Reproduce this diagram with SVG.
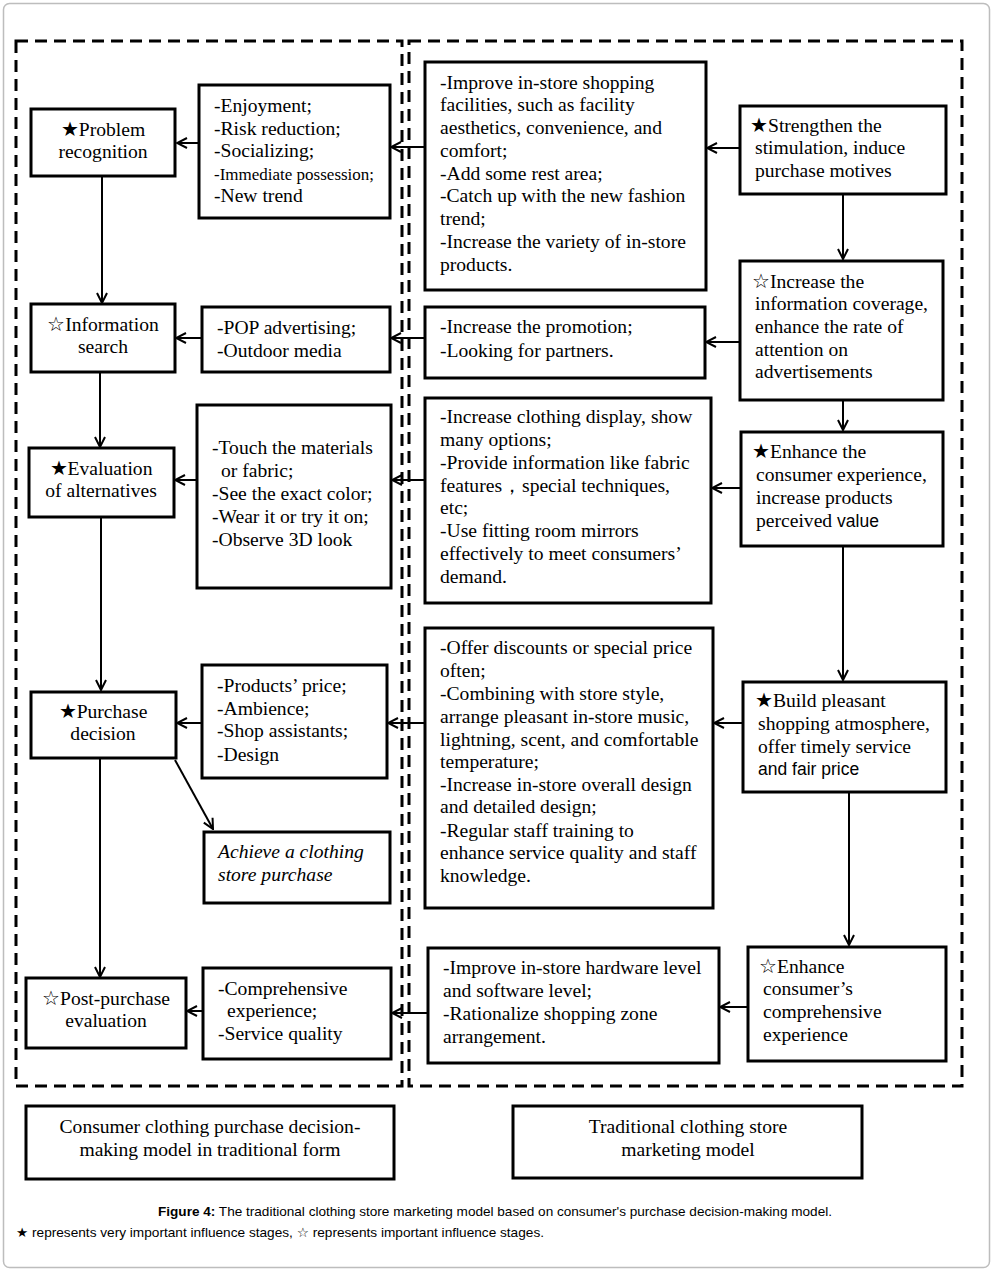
<svg xmlns="http://www.w3.org/2000/svg" width="996" height="1272" viewBox="0 0 996 1272">
<style>
.t{font-family:"Liberation Serif","DejaVu Serif",serif;font-size:19.6px;fill:#000}
.c{text-anchor:middle}
.sm{font-size:17px}
.it{font-style:italic}
.sans{font-family:"Liberation Sans","DejaVu Sans",sans-serif;font-size:17.5px}
.box{fill:#fff;stroke:#000;stroke-width:3}
.dash{fill:none;stroke:#000;stroke-width:3;stroke-dasharray:12 7}
.ln{fill:none;stroke:#000;stroke-width:2}
.cap{font-family:"Liberation Sans","DejaVu Sans",sans-serif;font-size:13px;fill:#000}
</style>
<defs>
<marker id="ah" viewBox="0 0 12 12" refX="11" refY="6" markerWidth="12" markerHeight="12" markerUnits="userSpaceOnUse" orient="auto">
<path d="M1,1 L11,6 L1,11" fill="none" stroke="#000" stroke-width="2"/>
</marker>
</defs>
<rect x="3.5" y="3.5" width="986" height="1264" rx="6" fill="#fff" stroke="#bdbdbd" stroke-width="1.5"/>
<g id="frames">
<rect class="dash" x="16" y="41" width="386" height="1045"/>
<rect class="dash" x="409" y="41" width="553" height="1045"/>
</g>
<g id="connectors">
<line class="ln" x1="102" y1="177" x2="102" y2="303" marker-end="url(#ah)"/>
<line class="ln" x1="100" y1="372" x2="100" y2="447" marker-end="url(#ah)"/>
<line class="ln" x1="101" y1="517" x2="101" y2="690" marker-end="url(#ah)"/>
<line class="ln" x1="100" y1="758" x2="100" y2="977" marker-end="url(#ah)"/>
<line class="ln" x1="175" y1="760" x2="213" y2="829" marker-end="url(#ah)"/>
<line class="ln" x1="199" y1="143" x2="177" y2="143" marker-end="url(#ah)"/>
<line class="ln" x1="202" y1="338" x2="176" y2="338" marker-end="url(#ah)"/>
<line class="ln" x1="197" y1="480" x2="175" y2="480" marker-end="url(#ah)"/>
<line class="ln" x1="202" y1="723" x2="177" y2="723" marker-end="url(#ah)"/>
<line class="ln" x1="203" y1="1011" x2="187" y2="1011" marker-end="url(#ah)"/>
<line class="ln" x1="425" y1="147" x2="391" y2="147" marker-end="url(#ah)"/>
<line class="ln" x1="425" y1="338" x2="391" y2="338" marker-end="url(#ah)"/>
<line class="ln" x1="425" y1="480" x2="392" y2="480" marker-end="url(#ah)"/>
<line class="ln" x1="425" y1="723" x2="388" y2="723" marker-end="url(#ah)"/>
<line class="ln" x1="428" y1="1013" x2="392" y2="1013" marker-end="url(#ah)"/>
<line class="ln" x1="740" y1="148" x2="707" y2="148" marker-end="url(#ah)"/>
<line class="ln" x1="740" y1="342" x2="706" y2="342" marker-end="url(#ah)"/>
<line class="ln" x1="741" y1="488" x2="712" y2="488" marker-end="url(#ah)"/>
<line class="ln" x1="743" y1="723" x2="714" y2="723" marker-end="url(#ah)"/>
<line class="ln" x1="748" y1="1007" x2="720" y2="1007" marker-end="url(#ah)"/>
<line class="ln" x1="843" y1="195" x2="843" y2="259" marker-end="url(#ah)"/>
<line class="ln" x1="843" y1="400" x2="843" y2="430" marker-end="url(#ah)"/>
<line class="ln" x1="843" y1="546" x2="843" y2="680" marker-end="url(#ah)"/>
<line class="ln" x1="849" y1="793" x2="849" y2="945" marker-end="url(#ah)"/>
</g>
<g id="n-problem">
<rect class="box" x="31" y="109" width="144" height="67"/>
<text class="t c" x="103" y="136">★Problem</text>
<text class="t c" x="103" y="158">recognition</text>
</g>
<g id="n-enjoy">
<rect class="box" x="199" y="85" width="191" height="133"/>
<text class="t" x="214" y="112">-Enjoyment;</text>
<text class="t" x="214" y="135">-Risk reduction;</text>
<text class="t" x="214" y="157">-Socializing;</text>
<text class="t sm" x="214" y="180">-Immediate possession;</text>
<text class="t" x="214" y="202">-New trend</text>
</g>
<g id="n-info">
<rect class="box" x="31" y="304" width="144" height="68"/>
<text class="t c" x="103" y="331">☆Information</text>
<text class="t c" x="103" y="353">search</text>
</g>
<g id="n-pop">
<rect class="box" x="202" y="307" width="188" height="65"/>
<text class="t" x="217" y="334">-POP advertising;</text>
<text class="t" x="217" y="357">-Outdoor media</text>
</g>
<g id="n-eval">
<rect class="box" x="29" y="448" width="145" height="69"/>
<text class="t c" x="101" y="475">★Evaluation</text>
<text class="t c" x="101" y="497">of alternatives</text>
</g>
<g id="n-touch">
<rect class="box" x="197" y="405" width="194" height="183"/>
<text class="t" x="212" y="454">-Touch the materials</text>
<text class="t" x="221" y="477">or fabric;</text>
<text class="t" x="212" y="500">-See the exact color;</text>
<text class="t" x="212" y="523">-Wear it or try it on;</text>
<text class="t" x="212" y="546">-Observe 3D look</text>
</g>
<g id="n-purchase">
<rect class="box" x="31" y="692" width="145" height="66"/>
<text class="t c" x="103" y="718">★Purchase</text>
<text class="t c" x="103" y="740">decision</text>
</g>
<g id="n-products">
<rect class="box" x="202" y="665" width="185" height="113"/>
<text class="t" x="217" y="692">-Products’ price;</text>
<text class="t" x="217" y="715">-Ambience;</text>
<text class="t" x="217" y="737">-Shop assistants;</text>
<text class="t" x="217" y="761">-Design</text>
</g>
<g id="n-achieve">
<rect class="box" x="204" y="832" width="186" height="71"/>
<text class="t it" x="218" y="858">Achieve a clothing</text>
<text class="t it" x="218" y="881">store purchase</text>
</g>
<g id="n-post">
<rect class="box" x="26" y="978" width="160" height="70"/>
<text class="t c" x="106" y="1005">☆Post-purchase</text>
<text class="t c" x="106" y="1027">evaluation</text>
</g>
<g id="n-comp">
<rect class="box" x="203" y="968" width="188" height="91"/>
<text class="t" x="218" y="995">-Comprehensive</text>
<text class="t" x="227" y="1017">experience;</text>
<text class="t" x="218" y="1040">-Service quality</text>
</g>
<g id="n-improve">
<rect class="box" x="425" y="62" width="281" height="228"/>
<text class="t" x="440" y="89">-Improve in-store shopping</text>
<text class="t" x="440" y="111">facilities, such as facility</text>
<text class="t" x="440" y="134">aesthetics, convenience, and</text>
<text class="t" x="440" y="157">comfort;</text>
<text class="t" x="440" y="180">-Add some rest area;</text>
<text class="t" x="440" y="202">-Catch up with the new fashion</text>
<text class="t" x="440" y="225">trend;</text>
<text class="t" x="440" y="248">-Increase the variety of in-store</text>
<text class="t" x="440" y="271">products.</text>
</g>
<g id="n-strengthen">
<rect class="box" x="740" y="106" width="206" height="88"/>
<text class="t" x="750" y="132">★Strengthen the</text>
<text class="t" x="755" y="154">stimulation, induce</text>
<text class="t" x="755" y="177">purchase motives</text>
</g>
<g id="n-promo">
<rect class="box" x="425" y="307" width="280" height="71"/>
<text class="t" x="440" y="333">-Increase the promotion;</text>
<text class="t" x="440" y="357">-Looking for partners.</text>
</g>
<g id="n-coverage">
<rect class="box" x="740" y="261" width="203" height="139"/>
<text class="t" x="752" y="288">☆Increase the</text>
<text class="t" x="755" y="310">information coverage,</text>
<text class="t" x="755" y="333">enhance the rate of</text>
<text class="t" x="755" y="356">attention on</text>
<text class="t" x="755" y="378">advertisements</text>
</g>
<g id="n-display">
<rect class="box" x="425" y="398" width="286" height="205"/>
<text class="t" x="440" y="423">-Increase clothing display, show</text>
<text class="t" x="440" y="446">many options;</text>
<text class="t" x="440" y="469">-Provide information like fabric</text>
<text class="t" x="440" y="492">features，special techniques,</text>
<text class="t" x="440" y="514">etc;</text>
<text class="t" x="440" y="537">-Use fitting room mirrors</text>
<text class="t" x="440" y="560">effectively to meet consumers’</text>
<text class="t" x="440" y="583">demand.</text>
</g>
<g id="n-experience">
<rect class="box" x="741" y="432" width="202" height="114"/>
<text class="t" x="752" y="458">★Enhance the</text>
<text class="t" x="756" y="481">consumer experience,</text>
<text class="t" x="756" y="504">increase products</text>
<text class="t" x="756" y="527">perceived <tspan class="sans">value</tspan></text>
</g>
<g id="n-offer">
<rect class="box" x="425" y="628" width="288" height="280"/>
<text class="t" x="440" y="654">-Offer discounts or special price</text>
<text class="t" x="440" y="677">often;</text>
<text class="t" x="440" y="700">-Combining with store style,</text>
<text class="t" x="440" y="723">arrange pleasant in-store music,</text>
<text class="t" x="440" y="746">lightning, scent, and comfortable</text>
<text class="t" x="440" y="768">temperature;</text>
<text class="t" x="440" y="791">-Increase in-store overall design</text>
<text class="t" x="440" y="813">and detailed design;</text>
<text class="t" x="440" y="837">-Regular staff training to</text>
<text class="t" x="440" y="859">enhance service quality and staff</text>
<text class="t" x="440" y="882">knowledge.</text>
</g>
<g id="n-build">
<rect class="box" x="743" y="682" width="203" height="110"/>
<text class="t" x="755" y="707">★Build pleasant</text>
<text class="t" x="758" y="730">shopping atmosphere,</text>
<text class="t" x="758" y="753">offer timely service</text>
<text class="t sans" x="758" y="775">and fair price</text>
</g>
<g id="n-hardware">
<rect class="box" x="428" y="948" width="291" height="115"/>
<text class="t" x="443" y="974">-Improve in-store hardware level</text>
<text class="t" x="443" y="997">and software level;</text>
<text class="t" x="443" y="1020">-Rationalize shopping zone</text>
<text class="t" x="443" y="1043">arrangement.</text>
</g>
<g id="n-comprehensive">
<rect class="box" x="748" y="947" width="198" height="114"/>
<text class="t" x="759" y="973">☆Enhance</text>
<text class="t" x="763" y="995">consumer’s</text>
<text class="t" x="763" y="1018">comprehensive</text>
<text class="t" x="763" y="1041">experience</text>
</g>
<g id="legend-left">
<rect class="box" x="26" y="1106" width="368" height="73"/>
<text class="t c" x="210" y="1133">Consumer clothing purchase decision-</text>
<text class="t c" x="210" y="1156">making model in traditional form</text>
</g>
<g id="legend-right">
<rect class="box" x="513" y="1106" width="349" height="72"/>
<text class="t c" x="688" y="1133">Traditional clothing store</text>
<text class="t c" x="688" y="1156">marketing model</text>
</g>
<g id="caption">
<text class="cap" x="158" y="1216" textLength="674" lengthAdjust="spacingAndGlyphs"><tspan font-weight="bold">Figure 4:</tspan> The traditional clothing store marketing model based on consumer's purchase decision-making model.</text>
<text class="cap" x="16" y="1237" textLength="528" lengthAdjust="spacingAndGlyphs">★ represents very important influence stages, ☆ represents important influence stages.</text>
</g>
</svg>
